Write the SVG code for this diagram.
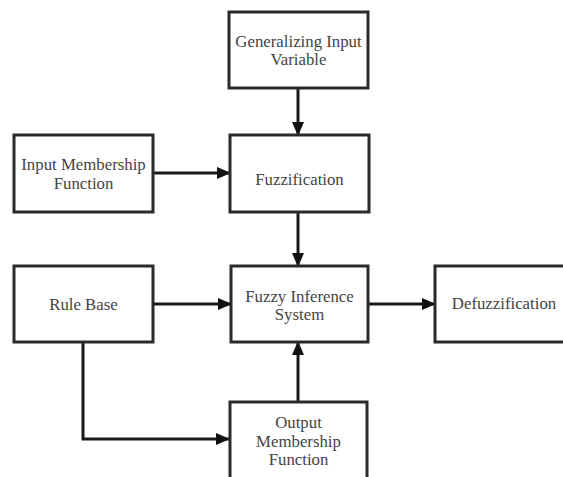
<svg xmlns="http://www.w3.org/2000/svg" width="563" height="477" viewBox="0 0 563 477">
<defs>
<marker id="ah" markerWidth="14" markerHeight="12" refX="13" refY="6" orient="auto" markerUnits="userSpaceOnUse">
<path d="M0,0 L14,6 L0,12 Z" fill="#111"/>
</marker>
<style>
.box{fill:#fff;stroke:#2a2a2a;stroke-width:3}
.c{fill:none;stroke:#1a1a1a;stroke-width:3}
text{font-family:"Liberation Serif","Times New Roman",serif;font-size:16.8px;fill:#444;text-anchor:middle}
</style>
</defs>
<rect width="563" height="477" fill="#fff"/>
<g id="connectors">
<path class="c" d="M298,88 V135" marker-end="url(#ah)"/>
<path class="c" d="M153,173 H230" marker-end="url(#ah)"/>
<path class="c" d="M298,212 V266" marker-end="url(#ah)"/>
<path class="c" d="M153,304 H231" marker-end="url(#ah)"/>
<path class="c" d="M368,304 H435" marker-end="url(#ah)"/>
<path class="c" d="M298,402 V342" marker-end="url(#ah)"/>
<path class="c" d="M83,342 V439 H229" marker-end="url(#ah)"/>
</g>
<g id="generalizing">
<rect class="box" x="229" y="12" width="139" height="76"/>
<text x="298.5" y="47">Generalizing Input</text>
<text x="298.5" y="65">Variable</text>
</g>
<g id="input-mf">
<rect class="box" x="14" y="135" width="139" height="77"/>
<text x="83.5" y="170">Input Membership</text>
<text x="83.5" y="189">Function</text>
</g>
<g id="fuzzification">
<rect class="box" x="230" y="135" width="139" height="77"/>
<text x="299.5" y="185">Fuzzification</text>
</g>
<g id="rule-base">
<rect class="box" x="14" y="266" width="139" height="76"/>
<text x="83.5" y="310">Rule Base</text>
</g>
<g id="fis">
<rect class="box" x="231" y="266" width="137" height="76"/>
<text x="299.5" y="302">Fuzzy Inference</text>
<text x="299.5" y="320">System</text>
</g>
<g id="defuzzification">
<rect class="box" x="435" y="266" width="140" height="76"/>
<text x="504" y="309">Defuzzification</text>
</g>
<g id="output-mf">
<rect class="box" x="230" y="402" width="137" height="90"/>
<text x="298.5" y="428">Output</text>
<text x="298.5" y="447">Membership</text>
<text x="298.5" y="465">Function</text>
</g>
</svg>
